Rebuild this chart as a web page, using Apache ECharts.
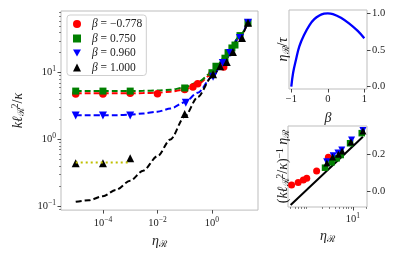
<!DOCTYPE html>
<html><head><meta charset="utf-8">
<script src="https://cdn.jsdelivr.net/npm/echarts@6/dist/echarts.min.js"></script>
<style>html,body{margin:0;padding:0;background:#fff}#c{width:398px;height:254px}</style>
</head><body><div id="c"></div>
<script>
// ---- main panel: markers ----
const etaRed   = [1e-5, 1e-4, 1e-3, 1e-2, 0.1, 0.2, 0.3, 1.0, 2.7];
const kRed     = [4.8, 4.8, 4.9, 4.85, 5.6, 6.1, 6.8, 9.6, 12.2];
const etaGreen = [1e-5, 1e-4, 1e-3, 0.1, 1.0, 1.4, 3.0, 3.9, 5.4, 7, 10.7, 21];
const kGreen   = [5.3, 5.3, 5.3, 5.9, 10, 12.5, 16.5, 20, 23.5, 26, 36, 56];
const etaBlue  = [1e-5, 1e-4, 1e-3, 0.11, 1.1, 2.5, 4.6, 10.7, 21];
const kBlue    = [2.28, 2.28, 2.28, 3.55, 8.7, 14, 19.8, 33, 56];
const etaBlack = [1e-5, 1e-4, 1e-3, 0.1, 1.1, 2, 3.5, 5.9, 12.7, 21];
const kBlack   = [0.44, 0.44, 0.52, 2.4, 9.5, 12.5, 14.5, 20.5, 33, 56];
// ---- main panel: fitted curves ----
const fitEta   = [1e-5, 3e-5, 1e-4, 3e-4, 1e-3, 3e-3, 1e-2, 3e-2, 0.1, 0.3, 1, 3, 10, 20];
const fitRed   = [4.9, 4.9, 4.9, 4.9, 4.9, 4.95, 5.0, 5.2, 5.6, 6.8, 9.5, 16, 33, 55];
const fitGreen = [5.3, 5.3, 5.3, 5.3, 5.3, 5.35, 5.4, 5.55, 6.0, 7.2, 10, 17, 34, 56];
const fitBlue  = [2.3, 2.3, 2.3, 2.3, 2.35, 2.45, 2.6, 2.9, 3.6, 5.0, 8.6, 16, 33, 56];
const fitBlack = [0.116, 0.122, 0.141, 0.175, 0.24, 0.34, 0.56, 1.0, 2.2, 4.3, 8.7, 16, 32, 55];
const dotEta   = [1e-5, 1e-3];
const dotK     = [0.45, 0.45];
// ---- top-right inset ----
const betaVals  = [-1, -0.95, -0.87, -0.78, -0.64, -0.5, -0.37, -0.23, -0.1, 0, 0.14, 0.36, 0.59, 0.82, 1.0];
const ratioVals = [0, 0.19, 0.37, 0.55, 0.715, 0.84, 0.92, 0.97, 0.995, 1.0, 0.99, 0.94, 0.86, 0.76, 0.66];
// ---- bottom-right inset ----
const inRedX   = [0.42, 0.59, 0.77, 0.92, 1.53, 2.8];
const inRedY   = [0.033, 0.047, 0.06, 0.069, 0.109, 0.184];
const inGreenX = [2.36, 3.3, 4.3, 5.3, 8.6, 15.7];
const inGreenY = [0.127, 0.156, 0.178, 0.196, 0.26, 0.315];
const inBlueX  = [2.57, 3.6, 4.6, 5.6, 9.3, 16.7];
const inBlueY  = [0.16, 0.192, 0.207, 0.223, 0.278, 0.329];
const inBlackX = [2.6, 3.5, 4.7, 5.7, 9.0, 16.7];
const inBlackY = [0.153, 0.185, 0.2, 0.218, 0.267, 0.327];
const inLineX  = [0.40, 16.7];
const inLineY  = [-0.076, 0.296];
// ---- tick labels ----
const mainXTicks = [-4, -2, 0];
const mainYTicks = [-1, 0, 1];
const topXTicks = [-1, 0, 1];
const topYTicks = [0, 0.5, 1.0];
const botXTicks = [1];
const botYTicks = [0, 0.2];
const names = ['β = −0.778', 'β = 0.750', 'β = 0.960', 'β = 1.000'];

const L = Math.log10;
const ll = (xs, ys) => xs.map((x, i) => [L(x), L(ys[i])]);
const lx = (xs, ys) => xs.map((x, i) => [L(x), ys[i]]);
const lin = (xs, ys) => xs.map((x, i) => [x, ys[i]]);
const minus = s => String(s).replace('-', '−');
const FONT = 'Liberation Serif';
const supRich = {
  b: {fontSize: 10.5, fontFamily: FONT, color: '#222'},
  s: {fontSize: 7.5, fontFamily: FONT, color: '#222', padding: [0, 0, 7, 0]}
};
const powFmt = v => '{b|10}{s|' + minus(Math.round(v)) + '}';
const minorLog = (a, b) => { const r = []; for (let d = a; d <= b; d++) for (let m = 2; m <= 9; m++) r.push(d + L(m)); return r; };

const tickStyle = {show: true, inside: false, length: 3.5, lineStyle: {color: '#333', width: 0.9}};
const minorTick = {show: true, inside: false, length: 2, lineStyle: {color: '#333', width: 0.6}};
const noLine = {show: false, onZero: false};
const nameRich = {
  i: {fontFamily: FONT, fontStyle: 'italic', fontSize: 14, color: '#222'},
  n: {fontFamily: FONT, fontSize: 14, color: '#222'},
  sub: {fontFamily: FONT, fontSize: 9.5, color: '#222', padding: [6, 0, 0, 0]},
  sup: {fontFamily: FONT, fontSize: 9.5, color: '#222', padding: [0, 0, 7, 0]}
};
const gridBase = {show: true, borderColor: '#bdbdbd', borderWidth: 1, backgroundColor: '#fff', containLabel: false};
const plainLbl = {fontFamily: FONT, fontSize: 10.5, color: '#222'};

const dashed = (name, data, color) => ({
  name, type: 'line', xAxisIndex: 0, yAxisIndex: 0, data, showSymbol: false, symbol: 'none',
  smooth: 0.3, smoothMonotone: 'x', lineStyle: {color, width: 2, type: [6, 3]}, z: 3, silent: true
});
const scat = (name, data, color, symbol, size, xi, yi) => ({
  name, type: 'scatter', xAxisIndex: xi, yAxisIndex: yi, data, symbol, symbolSize: size,
  itemStyle: {color, opacity: 1}, z: 4, silent: true
});
const triDown = 'path://M0,0L10,0L5,9Z';

const option = {
  animation: false,
  backgroundColor: '#fff',
  grid: [
    Object.assign({left: 61, top: 11, width: 197, height: 200}, gridBase),
    Object.assign({left: 289, top: 10, width: 78, height: 79}, gridBase),
    Object.assign({left: 288, top: 126, width: 79, height: 81}, gridBase)
  ],
  legend: {
    left: 67, top: 15, orient: 'vertical', padding: [3, 4, 2, 6],
    itemWidth: 8, itemHeight: 8, itemGap: 2.5,
    borderColor: '#cfcfcf', borderWidth: 1, borderRadius: 3, backgroundColor: 'rgba(255,255,255,0.85)',
    data: names.map((n, i) => ({name: n, icon: ['circle', 'rect', triDown, 'triangle'][i]})),
    formatter: n => '{i|β}{n| = ' + n.split('= ')[1] + '}',
    textStyle: {padding: [0, 0, 0, 6], lineHeight: 10, rich: {
      i: {fontFamily: FONT, fontStyle: 'italic', fontSize: 11.5, color: '#222'},
      n: {fontFamily: FONT, fontSize: 11.5, color: '#222'}
    }}
  },
  xAxis: [
    {gridIndex: 0, type: 'value', position: 'bottom', min: -5.54, max: 1.69, axisLine: noLine, splitLine: {show: false},
      axisTick: Object.assign({customValues: mainXTicks}, tickStyle),
      axisLabel: {customValues: mainXTicks, formatter: powFmt, rich: supRich, margin: 6},
      name: '{i|η}{sub|ℛ}', nameLocation: 'middle', nameGap: 22, nameTextStyle: {rich: nameRich}},
    {gridIndex: 1, type: 'value', position: 'bottom', min: -1.063, max: 1.074, axisLine: noLine, splitLine: {show: false},
      axisTick: Object.assign({customValues: topXTicks}, tickStyle),
      axisLabel: Object.assign({customValues: topXTicks, formatter: v => minus(v), margin: 5}, plainLbl),
      name: '{i|β}', nameLocation: 'middle', nameGap: 22, nameTextStyle: {rich: nameRich}},
    {gridIndex: 2, type: 'value', position: 'bottom', min: -0.457, max: 1.314, axisLine: noLine, splitLine: {show: false},
      axisTick: Object.assign({customValues: botXTicks}, tickStyle),
      axisLabel: {customValues: botXTicks, formatter: powFmt, rich: supRich, margin: 5},
      name: '{i|η}{sub|ℛ}', nameLocation: 'middle', nameGap: 21, nameTextStyle: {rich: nameRich}},
    {gridIndex: 2, type: 'value', position: 'bottom', min: -0.457, max: 1.314, axisLine: noLine, splitLine: {show: false},
      axisTick: Object.assign({customValues: minorLog(-1, 1).filter(v => v > -0.457 && v < 1.314)}, minorTick),
      axisLabel: {show: false}}
  ],
  yAxis: [
    {gridIndex: 0, type: 'value', position: 'left', min: -1.06, max: 1.925, axisLine: noLine, splitLine: {show: false},
      axisTick: Object.assign({customValues: mainYTicks}, tickStyle),
      axisLabel: {customValues: mainYTicks, formatter: powFmt, rich: supRich, margin: 5},
      name: '{i|kℓ}{sub|ℛ}{sup|2}{n|/}{i|κ}', nameLocation: 'middle', nameGap: 34, nameTextStyle: {rich: nameRich}},
    {gridIndex: 0, type: 'value', position: 'left', min: -1.06, max: 1.925, axisLine: noLine, splitLine: {show: false},
      axisTick: Object.assign({customValues: minorLog(-2, 1).filter(v => v > -1.06 && v < 1.925)}, minorTick),
      axisLabel: {show: false}},
    {gridIndex: 1, type: 'value', position: 'right', min: -0.031, max: 1.045, axisLine: noLine, splitLine: {show: false},
      axisTick: Object.assign({customValues: topYTicks}, tickStyle),
      axisLabel: Object.assign({customValues: topYTicks, formatter: v => v.toFixed(1), margin: 5}, plainLbl),
      name: '{i|η}{sub|ℛ}{n|/}{i|τ}', nameLocation: 'middle', nameGap: -92, nameRotate: 90, nameTextStyle: {rich: nameRich}},
    {gridIndex: 2, type: 'value', position: 'right', min: -0.087, max: 0.354, axisLine: noLine, splitLine: {show: false},
      axisTick: Object.assign({customValues: botYTicks}, tickStyle),
      axisLabel: Object.assign({customValues: botYTicks, formatter: v => v.toFixed(1), margin: 5}, plainLbl),
      name: '{n|(}{i|kℓ}{sub|ℛ}{sup|2}{n|/}{i|κ}{n|)}{sup|−1}{i| η}{sub|ℛ}', nameLocation: 'middle', nameGap: -92, nameRotate: 90, nameTextStyle: {rich: nameRich}}
  ],
  series: [
    scat(names[0], ll(etaRed, kRed), '#ff0000', 'circle', 7.5, 0, 0),
    scat(names[1], ll(etaGreen, kGreen), '#008000', 'rect', 7, 0, 0),
    scat(names[2], ll(etaBlue, kBlue), '#0000ff', triDown, 8, 0, 0),
    scat(names[3], ll(etaBlack, kBlack), '#000000', 'triangle', 8, 0, 0),
    dashed('fr', ll(fitEta, fitRed), '#ff0000'),
    dashed('fg', ll(fitEta, fitGreen), '#008000'),
    dashed('fb', ll(fitEta, fitBlue), '#0000ff'),
    dashed('fk', ll(fitEta, fitBlack), '#000000'),
    {name: 'dot', type: 'line', xAxisIndex: 0, yAxisIndex: 0, data: ll(dotEta, dotK), showSymbol: false, symbol: 'none',
      lineStyle: {color: '#bfbf00', width: 2, type: [2, 3]}, z: 5, silent: true},
    {name: 'ratio', type: 'line', xAxisIndex: 1, yAxisIndex: 2, data: lin(betaVals, ratioVals), showSymbol: false, symbol: 'none',
      smooth: 0.4, lineStyle: {color: '#0000ff', width: 2.3}, silent: true},
    {name: 'inl', type: 'line', xAxisIndex: 2, yAxisIndex: 3, data: lx(inLineX, inLineY), showSymbol: false, symbol: 'none',
      lineStyle: {color: '#000', width: 2}, silent: true, z: 3},
    scat('ir', lx(inRedX, inRedY), '#ff0000', 'circle', 7, 2, 3),
    scat('ig', lx(inGreenX, inGreenY), '#008000', 'rect', 6.5, 2, 3),
    scat('ib', lx(inBlueX, inBlueY), '#0000ff', triDown, 7, 2, 3),
    scat('ik', lx(inBlackX, inBlackY), '#000000', 'triangle', 7, 2, 3)
  ]
};
const chart = echarts.init(document.getElementById('c'), null, {renderer: 'canvas'});
chart.setOption(option);
</script>
</body></html>
